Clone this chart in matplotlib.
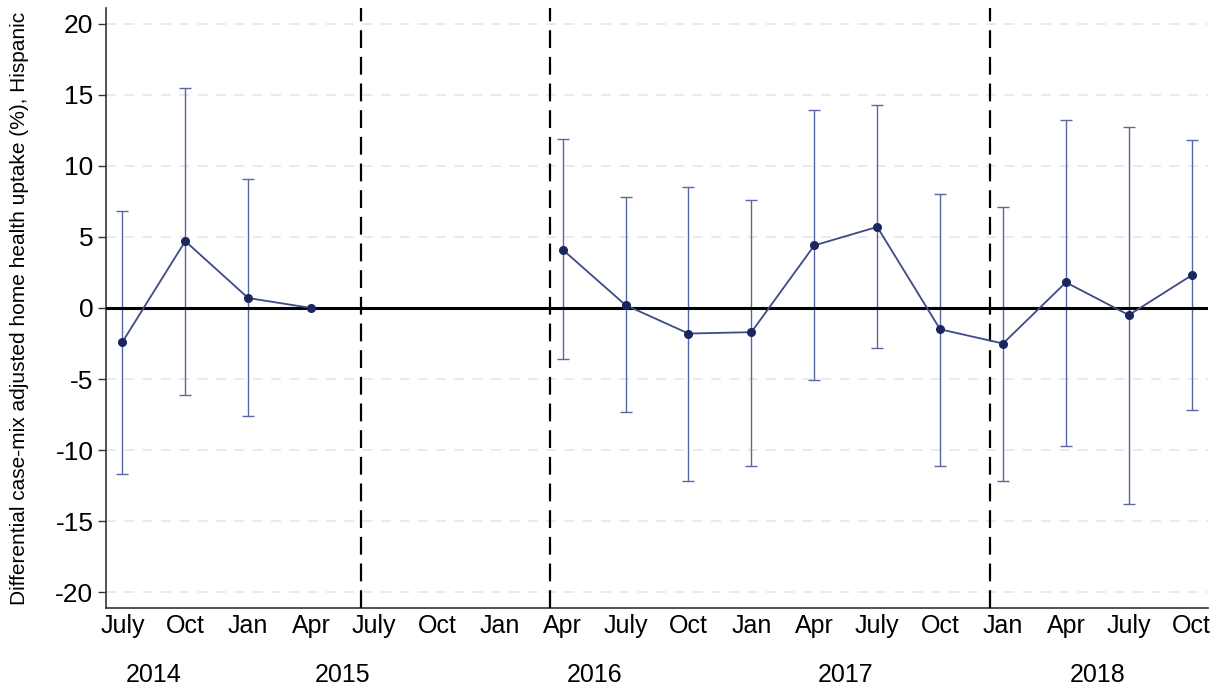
import numpy as np
import matplotlib
matplotlib.use("Agg")
import matplotlib.pyplot as plt

quarter_labels = ["July", "Oct", "Jan", "Apr", "July", "Oct", "Jan", "Apr", "July",
                  "Oct", "Jan", "Apr", "July", "Oct", "Jan", "Apr", "July", "Oct"]
years = ["2014", "2015", "2016", "2017", "2018"]
year_pos = [0.5, 3.5, 7.5, 11.5, 15.5]
estimate = [-2.4, 4.7, 0.7, 0.0, np.nan, np.nan, np.nan, 4.1, 0.2, -1.8, -1.7,
            4.4, 5.7, -1.5, -2.5, 1.8, -0.5, 2.3]
ci_upper = [6.8, 15.5, 9.1, np.nan, np.nan, np.nan, np.nan, 11.9, 7.8, 8.5, 7.6,
            13.9, 14.3, 8.0, 7.1, 13.2, 12.7, 11.8]
ci_lower = [-11.7, -6.1, -7.6, np.nan, np.nan, np.nan, np.nan, -3.6, -7.3, -12.2, -11.1,
            -5.1, -2.8, -11.1, -12.2, -9.7, -13.8, -7.2]
event_lines = [3.8, 6.8, 13.8]

plt.rcParams['font.family'] = ['Liberation Sans', 'DejaVu Sans']
plt.rcParams['axes.unicode_minus'] = False

fig = plt.figure(figsize=(12.24, 6.93), dpi=100)
ax = fig.add_axes([0.0866, 0.1227, 0.9004, 0.8658])

x = np.arange(len(quarter_labels))
est = np.array(estimate, dtype=float)
up = np.array(ci_upper, dtype=float)
lo = np.array(ci_lower, dtype=float)

# grid
for yv in np.arange(-20, 21, 5):
    ax.axhline(yv, color='#e6e6e6', lw=1.2, dashes=(6, 5), zorder=0)

# error bars
mask = ~np.isnan(up)
ax.errorbar(x[mask], est[mask], yerr=[est[mask] - lo[mask], up[mask] - est[mask]],
            fmt='none', ecolor='#5a67a0', elinewidth=1.0, capsize=4, capthick=1.0, zorder=2)

# zero line
ax.axhline(0, color='black', lw=2.2, zorder=3)

# event lines
for ev in event_lines:
    ax.axvline(ev, color='black', lw=1.6, dashes=(8, 4), zorder=3)

# estimates
ax.plot(x, est, color='#3d4a85', lw=1.3, marker='o', markersize=5.5,
        markerfacecolor='#1a2660', markeredgecolor='#1a2660', zorder=4)

ax.set_xlim(-0.26, 17.26)
ax.set_ylim(-21.1, 21.1)
ax.set_yticks(np.arange(-20, 21, 5))
ax.tick_params(axis='y', labelsize=19, length=6, width=1, color='#333333', pad=3)
ax.set_xticks(x)
ax.set_xticklabels(quarter_labels, fontsize=18)
ax.tick_params(axis='x', length=0, pad=4)

for pos, yr in zip(year_pos, years):
    ax.text(pos, -0.112, yr, transform=ax.get_xaxis_transform(), ha='center', va='center',
            fontsize=18)

ax.set_ylabel("Differential case-mix adjusted home health uptake (%), Hispanic", fontsize=15)
ax.yaxis.set_label_coords(-0.07, 0.5)

for s in ['top', 'right']:
    ax.spines[s].set_visible(False)
for s in ['left', 'bottom']:
    ax.spines[s].set_color('#333333')
    ax.spines[s].set_linewidth(1.2)

fig.savefig('out.png', dpi=100)
